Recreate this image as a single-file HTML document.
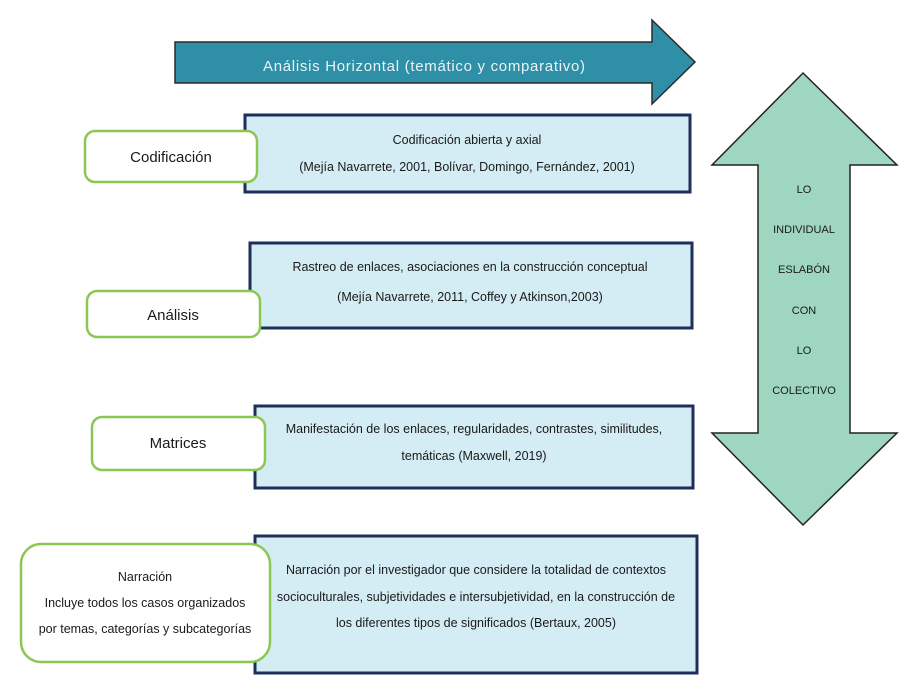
<!DOCTYPE html>
<html><head><meta charset="utf-8"><style>
html,body{margin:0;padding:0;background:#fff;}
svg{display:block;}
text{font-family:"Liberation Sans Narrow","Liberation Sans",sans-serif;fill:#1a1a1a;}
</style></head><body>
<svg width="919" height="692" viewBox="0 0 919 692" xmlns="http://www.w3.org/2000/svg">
<rect width="919" height="692" fill="#fff"/>
<!-- horizontal arrow -->
<polygon points="175,42 652,42 652,20 695,62 652,104 652,83 175,83" fill="#2e8fa6" stroke="#2a2a2a" stroke-width="1.5"/>
<text x="424" y="71" text-anchor="middle" font-family="Liberation Sans" font-size="15" style="fill:#e8f4f7;font-family:'Liberation Sans',sans-serif" textLength="322">Análisis Horizontal (temático y comparativo)</text>
<!-- vertical double arrow -->
<polygon points="803,73 897,165 850,165 850,433 897,433 803,525 712,433 758,433 758,165 712,165" fill="#9fd6c0" stroke="#222" stroke-width="1.5"/>
<g font-size="11" text-anchor="middle">
<text x="804" y="193">LO</text>
<text x="804" y="233">INDIVIDUAL</text>
<text x="804" y="273">ESLABÓN</text>
<text x="804" y="314">CON</text>
<text x="804" y="354">LO</text>
<text x="804" y="394">COLECTIVO</text>
</g>
<!-- blue boxes -->
<g fill="#d4ecf3" stroke="#1d2f5a" stroke-width="3">
<rect x="245" y="115" width="445" height="77"/>
<rect x="250" y="243" width="442" height="85"/>
<rect x="255" y="406" width="438" height="82"/>
<rect x="255" y="536" width="442" height="137"/>
</g>
<g font-size="12.5" text-anchor="middle">
<text x="467" y="144">Codificación abierta y axial</text>
<text x="467" y="171">(Mejía Navarrete, 2001, Bolívar, Domingo, Fernández, 2001)</text>
<text x="470" y="271">Rastreo de enlaces, asociaciones en la construcción conceptual</text>
<text x="470" y="301">(Mejía Navarrete, 2011, Coffey y Atkinson,2003)</text>
<text x="474" y="433">Manifestación de los enlaces, regularidades, contrastes, similitudes,</text>
<text x="474" y="460">temáticas (Maxwell, 2019)</text>
<text x="476" y="574">Narración por el investigador que considere la totalidad de contextos</text>
<text x="476" y="601">socioculturales, subjetividades e intersubjetividad, en la construcción de</text>
<text x="476" y="627">los diferentes tipos de significados (Bertaux, 2005)</text>
</g>
<!-- green boxes -->
<g fill="#fff" stroke="#8cc653" stroke-width="2.5">
<rect x="85" y="131" width="172" height="51" rx="10"/>
<rect x="87" y="291" width="173" height="46" rx="10"/>
<rect x="92" y="417" width="173" height="53" rx="10"/>
<rect x="21" y="544" width="249" height="118" rx="20"/>
</g>
<g text-anchor="middle">
<text x="171" y="162" font-size="15">Codificación</text>
<text x="173" y="320" font-size="15">Análisis</text>
<text x="178" y="448" font-size="15">Matrices</text>
<text x="145" y="581" font-size="12.5">Narración</text>
<text x="145" y="607" font-size="12.5">Incluye todos los casos organizados</text>
<text x="145" y="633" font-size="12.5">por temas, categorías y subcategorías</text>
</g>
</svg>
</body></html>
